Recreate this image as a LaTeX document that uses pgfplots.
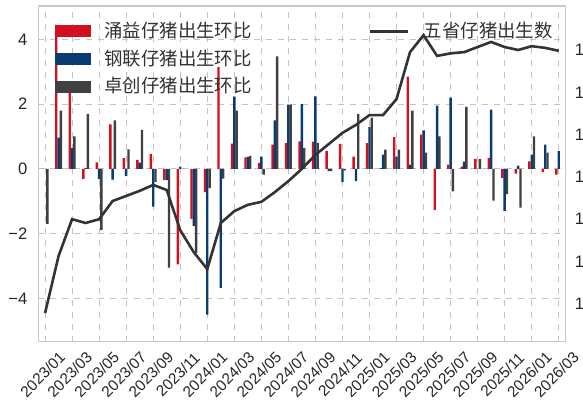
\documentclass[border=0pt]{standalone}
\usepackage{pgfplots}
\pgfplotsset{compat=1.18}
\usepackage{pgfplotstable}
\usepackage{fontspec}
\setmainfont{Liberation Sans}
\newfontfamily\cjk{Noto Sans CJK SC}
\definecolor{cred}{RGB}{210,16,32}
\definecolor{cblue}{RGB}{8,60,115}
\definecolor{cgray}{RGB}{64,64,64}
\definecolor{cline}{RGB}{51,51,51}
\definecolor{cgrid}{RGB}{195,195,195}
\definecolor{cframe}{RGB}{200,200,200}

\pgfplotstableread{
i r b g
0 0 0 -1.70
1 4.45 0.96 1.80
2 2.40 0.65 1.00
3 -0.31 0.02 1.70
4 0.20 -0.32 -1.89
5 1.37 -0.33 1.50
6 0.33 -0.22 0.60
7 0.28 0.19 1.20
8 0.46 -1.17 -0.40
9 -0.35 -0.35 -3.05
10 -2.95 0.07 0
11 -1.55 -1.77 -2.60
12 -0.72 -4.50 -0.60
13 3.14 -3.68 -0.30
14 0.78 2.23 1.80
15 0.35 0.37 0.40
16 0.18 0.38 -0.18
17 0.75 1.50 3.47
18 0.79 1.98 1.98
19 0.85 2.00 0.65
20 0.84 2.24 0.80
21 0.55 -0.07 -0.07
22 0.77 -0.41 -0.05
23 0.38 -0.38 1.70
24 0.79 1.29 1.58
25 0.02 0.44 0.59
26 0.98 0.38 0.59
27 2.85 0.13 1.80
28 1.06 1.19 0.50
29 -1.27 1.95 1.00
30 0.13 2.20 -0.70
31 0.07 0.22 1.91
32 0.31 0 0.30
33 0.34 1.83 -0.98
34 -0.28 -1.30 -0.78
35 -0.15 0.10 -1.20
36 0.23 0.44 1.00
37 -0.10 0.75 0.50
38 -0.18 0.55 0
}\bars

\pgfplotstableread{
i v
0 97.8
1 111.3
2 120.0
3 119.1
4 120.0
5 124.3
6 125.5
7 126.7
8 128.1
9 126.9
10 117.4
11 112.2
12 108.2
13 119.1
14 121.9
15 123.4
16 124.1
17 126.4
18 129.0
19 131.9
20 135.2
21 137.8
22 140.4
23 142.3
24 144.6
25 144.6
26 148.4
27 159.5
28 163.5
29 158.6
30 159.2
31 159.5
32 160.7
33 161.9
34 160.7
35 160.0
36 160.9
37 160.5
38 159.8
}\linedata

\begin{document}
\begin{tikzpicture}
\begin{axis}[
  at={(0,0)}, anchor=south west,
  scale only axis, width=263.6pt, height=167.85pt,
  xmin=-0.5, xmax=38.5, ymin=-5.34, ymax=5.03,
  xtick={0,2,...,38},
  xticklabels={2023/01,2023/03,2023/05,2023/07,2023/09,2023/11,2024/01,2024/03,2024/05,2024/07,2024/09,2024/11,2025/01,2025/03,2025/05,2025/07,2025/09,2025/11,2026/01,2026/03},
  ytick={-4,-2,0,2,4},
  yticklabels={−4,−2,0,2,4},
  grid=major,
  major grid style={dashed, cgrid, line width=0.5pt},
  axis line style={cframe, line width=0.6pt},
  major tick length=0pt,
  yticklabel style={font=\fontsize{8.3}{10}\selectfont, text=black!85, anchor=east, xshift=-2pt},
  xticklabel style={font=\fontsize{7.7}{9}\selectfont, text=black!85, xshift=-1.2pt, yshift=-16.4pt, rotate=45, anchor=center},
  legend style={at={(0.03,0.962)}, anchor=north west, draw=none, fill=none,
    font=\cjk\fontsize{9.2}{10}\selectfont, text=black!80, row sep=1.6pt, inner sep=0pt,
    nodes={inner sep=1.5pt},
    /tikz/every odd column/.append style={column sep=5.5pt}},
  legend cell align=left,
]
\addplot[ybar, bar width=1.2pt, bar shift=-1.15pt, fill=cred, draw=none,
  legend image code/.code={\fill[cred] (0pt,-3pt) rectangle (18pt,3pt);}]
  table[x=i,y=r]{\bars};
\addlegendentry{涌益仔猪出生环比}
\addplot[ybar, bar width=1.2pt, bar shift=0pt, fill=cblue, draw=none,
  legend image code/.code={\fill[cblue] (0pt,-3pt) rectangle (18pt,3pt);}]
  table[x=i,y=b]{\bars};
\addlegendentry{钢联仔猪出生环比}
\addplot[ybar, bar width=1.2pt, bar shift=1.15pt, fill=cgray, draw=none,
  legend image code/.code={\fill[cgray] (0pt,-3pt) rectangle (18pt,3pt);}]
  table[x=i,y=g]{\bars};
\addlegendentry{卓创仔猪出生环比}
\end{axis}
\begin{axis}[
  at={(0,0)}, anchor=south west,
  scale only axis, width=263.6pt, height=167.85pt,
  xmin=-0.5, xmax=38.5, ymin=91.04, ymax=170.4,
  axis x line=none,
  axis y line*=right,
  y axis line style={cframe, line width=0.6pt},
  ytick={100,110,...,160},
  major tick length=0pt,
  tick label style={font=\fontsize{8.3}{10}\selectfont, text=black!85},
  /pgf/number format/assume math mode=true,
  yticklabel style={anchor=west, xshift=1.2pt},
  legend style={at={(0.625,0.962)}, anchor=north west, draw=none, fill=none,
    font=\cjk\fontsize{9.2}{10}\selectfont, text=black!80, inner sep=0pt,
    nodes={inner sep=1.5pt},
    /tikz/every odd column/.append style={column sep=6pt}},
]
\addplot[cline, line width=1.3pt, mark=none,
  legend image code/.code={\draw[cline, line width=1.3pt] (0pt,0pt) -- (19pt,0pt);}]
  table[x=i,y=v]{\linedata};
\addlegendentry{五省仔猪出生数}
\end{axis}
\pgfresetboundingbox
\path[use as bounding box] (-19.15pt,-29.15pt) rectangle (272.35pt,170.85pt);
\end{tikzpicture}
\end{document}
